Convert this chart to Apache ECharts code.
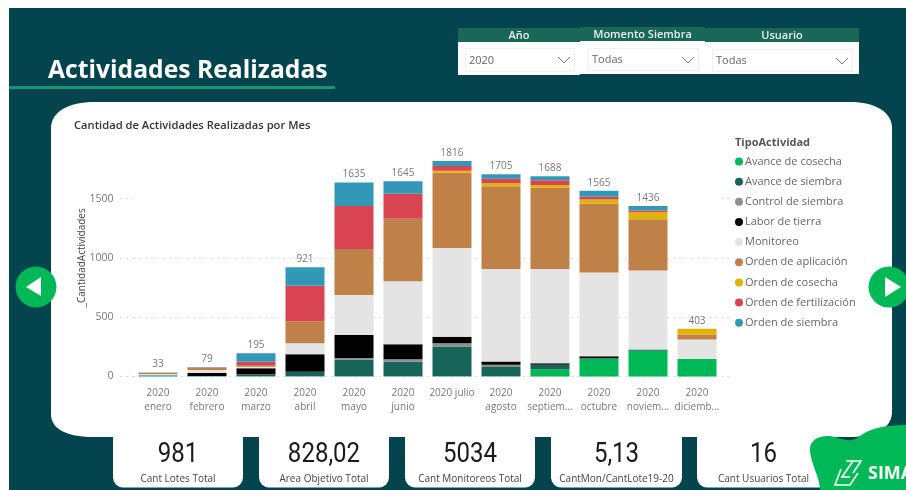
<!DOCTYPE html>
<html>
<head>
<meta charset="utf-8">
<title>Actividades Realizadas</title>
<style>
  html, body { margin: 0; padding: 0; background: #fff; }
  #chart { width: 906px; height: 490px; }
</style>
<script src="https://cdn.jsdelivr.net/npm/echarts@6/dist/echarts.min.js"></script>
</head>
<body>
<div id="chart"></div>
<script>
var meses = ['2020\nenero', '2020\nfebrero', '2020\nmarzo', '2020\nabril', '2020\nmayo', '2020\njunio',
  '2020 julio', '2020\nagosto', '2020\nseptiem...', '2020\noctubre', '2020\nnoviem...', '2020\ndiciemb...'];

var avanceCosecha = [6, 2, 2, 2, 3, 3, 3, 2, 62, 149, 216, 149];
var avanceSiembra = [3, 2, 11, 37, 140, 121, 250, 79, 34, 5, 11, 0];
var controlSiembra = [0, 0, 3, 0, 12, 22, 28, 17, 2, 0, 0, 0];
var laborTierra = [1, 25, 53, 149, 194, 125, 55, 28, 14, 17, 0, 0];
var monitoreo = [12, 25, 14, 93, 337, 531, 747, 781, 795, 705, 666, 163];
var ordenAplicacion = [9, 17, 14, 185, 388, 528, 635, 697, 683, 582, 433, 42];
var ordenCosecha = [0, 0, 0, 0, 0, 0, 17, 25, 25, 34, 59, 48];
var ordenFertilizacion = [0, 4, 28, 298, 362, 211, 39, 37, 39, 22, 14, 0];
var ordenSiembra = [2, 4, 70, 157, 199, 104, 42, 39, 34, 51, 37, 1];
var totales = [33, 79, 195, 921, 1635, 1645, 1816, 1705, 1688, 1565, 1436, 403];

var ticksY = [0, 500, 1000, 1500];

var tarjetas = [
  { valor: '981', nombre: 'Cant Lotes Total' },
  { valor: '828,02', nombre: 'Area Objetivo Total' },
  { valor: '5034', nombre: 'Cant Monitoreos Total' },
  { valor: '5,13', nombre: 'CantMon/CantLote19-20' },
  { valor: '16', nombre: 'Cant Usuarios Total' }
];
var filtros = [
  { titulo: 'Año', valor: '2020' },
  { titulo: 'Momento Siembra', valor: 'Todas' },
  { titulo: 'Usuario', valor: 'Todas' }
];

var fuente = '"Open Sans", sans-serif';
var fuenteDin = '"Liberation Sans Narrow", Roboto, sans-serif';
var oscuro = '#04444f';
var verde = '#00b956';

function serie(nombre, datos, color) {
  return {
    name: nombre,
    type: 'bar',
    stack: 'mes',
    data: datos,
    barWidth: 39,
    itemStyle: { color: color }
  };
}

function rect(x, y, w, h, color, r, borde) {
  return {
    type: 'rect', z: -10,
    shape: { x: x, y: y, width: w, height: h, r: r || 0 },
    style: { fill: color, stroke: borde || null, lineWidth: borde ? 1 : 0 }
  };
}

function texto(t, x, y, font, color, align) {
  return {
    type: 'text', z: -9,
    style: { text: t, x: x, y: y, font: font, fill: color, textAlign: align || 'center', textVerticalAlign: 'middle' }
  };
}

// graphic no trae tipo path, se registra una forma por cada trazo
var nTrazos = 0;
function trazo(d, color, ancho, relleno) {
  nTrazos++;
  var nombre = 'trazo' + nTrazos;
  echarts.graphic.registerShape(nombre, echarts.graphic.extendPath(d));
  return {
    type: nombre, z: -9,
    style: { fill: relleno || 'none', stroke: color || 'none', lineWidth: ancho || 0 }
  };
}

var fondo = [
  rect(9, 8, 897, 482, oscuro),
  rect(9, 86, 326, 3, '#0f9a72'),
  texto('Actividades Realizadas', 48, 71, 'bold 24.7px ' + fuente, '#ffffff', 'left'),
  // panel blanco
  trazo('M95 102 L850 102 C875 102 892 112 892 128 L892 412 C892 428 875 437 850 437 L95 437 C68 437 51 430 51 414 L51 128 C51 112 68 102 95 102 Z', null, 0, '#ffffff'),
  texto('Cantidad de Actividades Realizadas por Mes', 74, 126, '600 11.2px ' + fuente, '#333333', 'left'),
  texto('TipoActividad', 735, 143, 'bold 11px ' + fuente, '#555555', 'left'),
  // flechas
  { type: 'circle', z: -8, shape: { cx: 36, cy: 287, r: 20.5 }, style: { fill: verde } },
  { type: 'polygon', z: -7, shape: { points: [[26, 287], [41, 277], [41, 296]] }, style: { fill: '#ffffff' } },
  { type: 'circle', z: -8, shape: { cx: 889, cy: 287, r: 20.5 }, style: { fill: verde } },
  { type: 'polygon', z: -7, shape: { points: [[885, 277], [901, 287], [885, 297]] }, style: { fill: '#ffffff' } }
];

// filtros de arriba
var cajasFiltro = [
  { x: 458, w: 122, top: 28, medio: 42, fin: 75, ix: 465, iw: 109, iy: 48, ih: 23 },
  { x: 580, w: 125, top: 27, medio: 41, fin: 74, ix: 588, iw: 110, iy: 48, ih: 22 },
  { x: 705, w: 154, top: 28, medio: 42, fin: 74, ix: 712, iw: 140, iy: 49, ih: 22 }
];
filtros.forEach(function (f, i) {
  var c = cajasFiltro[i];
  fondo.push(rect(c.x, c.top, c.w, c.fin - c.top, '#ffffff'));
  fondo.push(rect(c.x, c.top, c.w, c.medio - c.top, '#1a6657'));
  fondo.push(texto(f.titulo, c.x + c.w / 2, (c.top + c.medio) / 2 + 0.5, '600 11px ' + fuente, '#e8f0ee'));
  fondo.push(rect(c.ix + 0.5, c.iy + 0.5, c.iw, c.ih, '#ffffff', 0, '#eeeeee'));
  fondo.push(texto(f.valor, c.ix + 4, c.iy + c.ih / 2 + 1, '11px ' + fuente, '#666666', 'left'));
  var ch = c.ix + c.iw - 10;
  fondo.push({
    type: 'polyline', z: -9,
    shape: { points: [[ch - 6, c.iy + 9], [ch, c.iy + 15], [ch + 6, c.iy + 9]] },
    style: { stroke: '#777777', lineWidth: 1, fill: 'none' }
  });
});

// tarjetas de abajo
var cajasTarjeta = [[113, 130], [259, 130], [405, 130], [551, 131], [697, 133]];
tarjetas.forEach(function (t, i) {
  var x = cajasTarjeta[i][0], w = cajasTarjeta[i][1];
  fondo.push(rect(x, 430, w, 57.5, '#ffffff', [0, 0, 10, 10]));
  // el numero va angostado porque la fuente original es condensada
  fondo.push({
    type: 'text', z: -9, x: x + w / 2, y: 455, scaleX: 0.89,
    style: { text: t.valor, x: 0, y: 0, font: '27px ' + fuenteDin, fill: '#1a1a1a', textAlign: 'center', textVerticalAlign: 'middle' }
  });
  fondo.push(texto(t.nombre, x + w / 2, 479, '10px ' + fuente, '#444444'));
});

// logo
fondo.push(trazo('M820 490 C820 478 811 464 810 451 C809 438 823 434 835 437 C845 440 852 443 860 436 C870 429 882 425 906 425 L906 490 Z', null, 0, verde));
fondo.push(trazo('M846 461 L861 461 L853 473 M853 461 L842 477 L850 477 M841 469 L835 485 L850 485 L858 473', '#ffffff', 1.6));
fondo.push(texto('SIMA', 868, 474, 'bold 18px ' + fuente, '#ffffff', 'left'));

var lineaPuntos = { color: '#cfcfcf', type: [1.5, 4.5], width: 1 };

var option = {
  animation: false,
  backgroundColor: '#ffffff',
  graphic: { elements: fondo },
  grid: { left: 133.5, width: 588, top: 139.2, height: 237.3 },
  legend: {
    orient: 'vertical',
    left: 730,
    top: 149,
    icon: 'circle',
    itemWidth: 8,
    itemHeight: 8,
    itemGap: 5.15,
    selectedMode: false,
    data: ['Avance de cosecha', 'Avance de siembra', 'Control de siembra', 'Labor de tierra', 'Monitoreo',
      'Orden de aplicación', 'Orden de cosecha', 'Orden de fertilización', 'Orden de siembra'],
    textStyle: { fontFamily: fuente, fontSize: 11, color: '#666666', padding: [0, 0, 0, -3], lineHeight: 15 }
  },
  xAxis: {
    type: 'category',
    data: meses,
    axisLine: { show: false },
    axisTick: { show: false },
    axisLabel: { interval: 0, margin: 10, fontFamily: fuente, fontSize: 10, lineHeight: 14, color: '#777777' }
  },
  yAxis: [
    {
      type: 'value',
      min: 0,
      max: 2000,
      interval: 500,
      name: '_CantidadActividades',
      nameLocation: 'middle',
      nameGap: 46,
      nameMoveOverlap: false,
      nameTextStyle: { fontFamily: fuente, fontSize: 10, color: '#444444' },
      axisLine: { show: false },
      axisTick: { show: true, length: 15, lineStyle: lineaPuntos, customValues: ticksY },
      axisLabel: {
        margin: 20,
        fontFamily: fuente,
        fontSize: 10.5,
        color: '#777777',
        customValues: ticksY,
        formatter: function (v) { return String(v); }
      },
      splitLine: { lineStyle: lineaPuntos, showMaxLine: false }
    },
    {
      type: 'value',
      min: 0,
      max: 2000,
      interval: 500,
      position: 'right',
      axisLine: { show: false },
      axisTick: { show: true, length: 12, lineStyle: lineaPuntos, customValues: ticksY },
      axisLabel: { show: false },
      splitLine: { show: false }
    }
  ],
  series: [
    serie('Avance de cosecha', avanceCosecha, '#00b956'),
    serie('Avance de siembra', avanceSiembra, '#166558'),
    serie('Control de siembra', controlSiembra, '#8f8f8f'),
    serie('Labor de tierra', laborTierra, '#000000'),
    serie('Monitoreo', monitoreo, '#e4e4e4'),
    serie('Orden de aplicación', ordenAplicacion, '#c08149'),
    serie('Orden de cosecha', ordenCosecha, '#e0b400'),
    serie('Orden de fertilización', ordenFertilizacion, '#d94452'),
    serie('Orden de siembra', ordenSiembra, '#3398b8'),
    {
      name: 'Total',
      type: 'bar',
      data: totales,
      barWidth: 39,
      barGap: '-100%',
      silent: true,
      itemStyle: { color: 'transparent' },
      label: { show: true, position: 'top', distance: 3, fontFamily: fuente, fontSize: 10, color: '#777777' }
    }
  ]
};

var grafico = echarts.init(document.getElementById('chart'));
grafico.setOption(option);
</script>
</body>
</html>
